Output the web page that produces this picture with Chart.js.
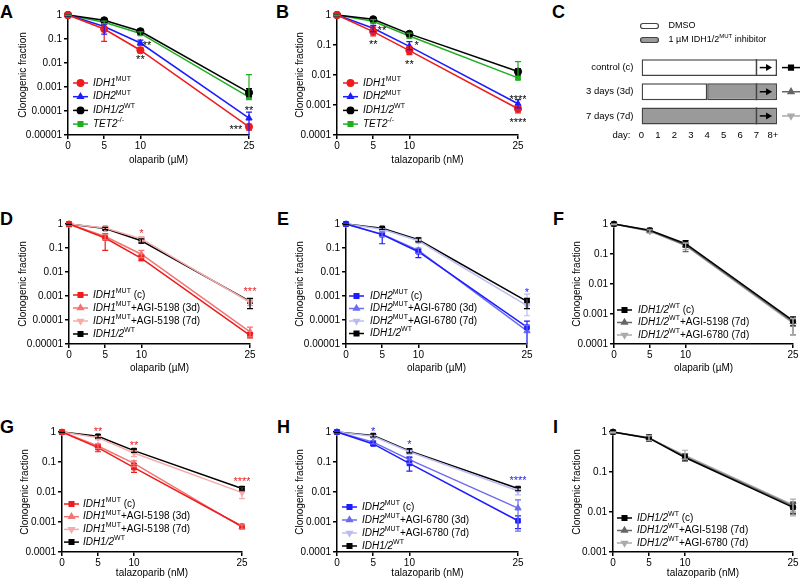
<!DOCTYPE html>
<html><head><meta charset="utf-8">
<script src="https://cdn.jsdelivr.net/npm/chart.js@4.4.0/dist/chart.umd.min.js"></script>
<style>
body{margin:0;background:#fff;width:800px;height:581px;position:relative;overflow:hidden;font-family:"Liberation Sans",Arial,sans-serif}
.lt{position:absolute;font:bold 18px/1 "Liberation Sans",Arial,sans-serif;color:#000}
</style></head><body>
<div class="lt" style="left:0px;top:3px">A</div>
<div class="lt" style="left:276px;top:3px">B</div>
<div class="lt" style="left:552px;top:3px">C</div>
<div class="lt" style="left:0px;top:210px">D</div>
<div class="lt" style="left:277px;top:210px">E</div>
<div class="lt" style="left:553px;top:210px">F</div>
<div class="lt" style="left:0px;top:418px">G</div>
<div class="lt" style="left:277px;top:418px">H</div>
<div class="lt" style="left:553px;top:418px">I</div>
<script>
const FONT = '"Liberation Sans", Arial, Helvetica, sans-serif';
Chart.defaults.font.family = FONT;
Chart.defaults.font.size = 10;
Chart.defaults.color = '#000';

// ================= DATA =================
const doses = [0, 5, 10, 25];
const logTickLabels = ['1', '0.1', '0.01', '0.001', '0.0001', '0.00001'];

// Panel A (olaparib)
const A_IDH1mut    = [1, 0.26, 0.034, 0.000022];
const A_IDH1mut_hi = [1, 0.40, 0.045, 0.000028];
const A_IDH1mut_lo = [0.78, 0.08, 0.027, 0.000016];
const A_IDH2mut    = [1, 0.33, 0.068, 0.00005];
const A_IDH2mut_hi = [1, 0.42, 0.09, 0.00009];
const A_IDH2mut_lo = [0.9, 0.16, 0.055, 0.00001];
const A_WT    = [1, 0.60, 0.21, 0.00058];
const A_WT_hi = [1, 0.70, 0.26, 0.00085];
const A_WT_lo = [0.92, 0.50, 0.16, 0.00040];
const A_TET2    = [1, 0.50, 0.17, 0.00038];
const A_TET2_hi = [1, 0.56, 0.20, 0.0033];
const A_TET2_lo = [0.95, 0.44, 0.14, 0.00030];
const A_stars = [[10.9, 0.068, '**'], [10, 0.018, '**'], [25, 0.00013, '**'], [23.2, 0.000022, '***']];

// Panel B (talazoparib)
const B_IDH1mut    = [1, 0.28, 0.065, 0.00075];
const B_IDH1mut_hi = [1, 0.40, 0.09, 0.0009];
const B_IDH1mut_lo = [0.9, 0.20, 0.048, 0.00055];
const B_IDH2mut    = [1, 0.36, 0.09, 0.0011];
const B_IDH2mut_hi = [1, 0.45, 0.13, 0.0015];
const B_IDH2mut_lo = [0.95, 0.28, 0.07, 0.0008];
const B_WT    = [1, 0.72, 0.235, 0.013];
const B_WT_hi = [1, 0.82, 0.27, 0.016];
const B_WT_lo = [0.95, 0.62, 0.20, 0.010];
const B_TET2    = [1, 0.62, 0.20, 0.008];
const B_TET2_hi = [1, 0.70, 0.25, 0.028];
const B_TET2_lo = [0.95, 0.55, 0.17, 0.007];
const B_stars = [[6.2, 0.36, '**'], [5, 0.126, '**'], [11, 0.12, '*'], [10, 0.027, '**'], [25, 0.0019, '****'], [25, 0.00032, '****']];

// Panel C (treatment schedule)
const C_days = [0, 1, 2, 3, 4, 5, 6, 7, 8];
const C_dayLabels = ['0', '1', '2', '3', '4', '5', '6', '7', '8+'];
const C_rows = ['control (c)', '3 days (3d)', '7 days (7d)'];
const C_dmso  = [[0, 8.25], [0, 4], null];
const C_inhib = [null, [4, 8.25], [0, 8.25]];
const C_plating = 7;

// Panel D (olaparib, IDH1 mut + AGI-5198)
const D_c    = [1, 0.26, 0.037, 0.000023];
const D_c_hi = [1, 0.40, 0.05, 0.00003];
const D_c_lo = [0.78, 0.08, 0.03, 0.000018];
const D_3d    = [1, 0.30, 0.055, 0.000032];
const D_3d_hi = [1, 0.38, 0.08, 0.00005];
const D_3d_lo = [0.9, 0.22, 0.04, 0.00002];
const D_7d    = [1, 0.68, 0.24, 0.00055];
const D_7d_hi = [1, 0.75, 0.30, 0.0007];
const D_7d_lo = [0.95, 0.60, 0.18, 0.0004];
const D_WT    = [1, 0.65, 0.20, 0.0006];
const D_WT_hi = [1, 0.72, 0.24, 0.0008];
const D_WT_lo = [0.95, 0.58, 0.16, 0.0003];
const D_stars = [[10, 0.53, '*'], [25, 0.002, '***']];

// Panel E (olaparib, IDH2 mut + AGI-6780)
const E_c    = [1, 0.36, 0.07, 0.00005];
const E_c_hi = [1, 0.47, 0.09, 0.00009];
const E_c_lo = [0.9, 0.15, 0.04, 0.00001];
const E_3d    = [1, 0.38, 0.08, 0.000035];
const E_3d_hi = [1, 0.45, 0.10, 0.00006];
const E_3d_lo = [0.92, 0.30, 0.06, 0.00001];
const E_7d    = [1, 0.60, 0.20, 0.0004];
const E_7d_hi = [1, 0.68, 0.25, 0.0012];
const E_7d_lo = [0.95, 0.52, 0.16, 0.00015];
const E_WT    = [1, 0.66, 0.22, 0.0006];
const E_WT_hi = [1, 0.72, 0.26, 0.0008];
const E_WT_lo = [0.95, 0.60, 0.18, 0.0003];
const E_stars = [[25, 0.0017, '*']];

// Panel F (olaparib, IDH1/2 WT)
const F_c    = [1, 0.62, 0.22, 0.0006];
const F_c_hi = [1, 0.70, 0.28, 0.0008];
const F_c_lo = [0.95, 0.55, 0.17, 0.0004];
const F_5198    = [1, 0.60, 0.20, 0.00055];
const F_5198_hi = [1, 0.66, 0.24, 0.0007];
const F_5198_lo = [0.95, 0.54, 0.12, 0.0002];
const F_6780    = [1, 0.57, 0.19, 0.0005];
const F_6780_hi = [1, 0.63, 0.23, 0.0007];
const F_6780_lo = [0.95, 0.50, 0.14, 0.0002];

// Panel G (talazoparib, IDH1 mut + AGI-5198)
const G_c    = [1, 0.30, 0.065, 0.00072];
const G_c_hi = [1, 0.38, 0.09, 0.00082];
const G_c_lo = [0.95, 0.22, 0.045, 0.0006];
const G_3d    = [1, 0.34, 0.09, 0.00068];
const G_3d_hi = [1, 0.40, 0.11, 0.0008];
const G_3d_lo = [0.95, 0.28, 0.07, 0.00058];
const G_7d    = [1, 0.65, 0.20, 0.0095];
const G_7d_hi = [1, 0.72, 0.25, 0.015];
const G_7d_lo = [0.95, 0.56, 0.15, 0.006];
const G_WT    = [1, 0.72, 0.24, 0.013];
const G_WT_hi = [1, 0.80, 0.27, 0.015];
const G_WT_lo = [0.95, 0.64, 0.21, 0.011];
const G_stars = [[5, 1.3, '**'], [10, 0.42, '**'], [25, 0.027, '****']];

// Panel H (talazoparib, IDH2 mut + AGI-6780)
const H_c    = [1, 0.40, 0.09, 0.0011];
const H_c_hi = [1, 0.45, 0.14, 0.0016];
const H_c_lo = [0.95, 0.36, 0.05, 0.0006];
const H_3d    = [1, 0.46, 0.12, 0.0029];
const H_3d_hi = [1, 0.52, 0.15, 0.0055];
const H_3d_lo = [0.95, 0.40, 0.09, 0.0005];
const H_7d    = [1, 0.72, 0.22, 0.011];
const H_7d_hi = [1, 0.80, 0.26, 0.013];
const H_7d_lo = [0.95, 0.64, 0.18, 0.008];
const H_WT    = [1, 0.76, 0.235, 0.013];
const H_WT_hi = [1, 0.84, 0.27, 0.014];
const H_WT_lo = [0.95, 0.68, 0.20, 0.011];
const H_stars = [[5, 1.3, '*'], [10, 0.48, '*'], [25, 0.029, '****']];

// Panel I (talazoparib, IDH1/2 WT)
const I_c    = [1, 0.70, 0.23, 0.013];
const I_c_hi = [1, 0.85, 0.28, 0.017];
const I_c_lo = [0.95, 0.58, 0.19, 0.009];
const I_5198    = [1, 0.72, 0.24, 0.014];
const I_5198_hi = [1, 0.82, 0.29, 0.018];
const I_5198_lo = [0.95, 0.62, 0.20, 0.010];
const I_6780    = [1, 0.70, 0.26, 0.015];
const I_6780_hi = [1, 0.80, 0.35, 0.021];
const I_6780_lo = [0.95, 0.60, 0.21, 0.008];

// Legend labels (rich text segments: '' normal, 'i' italic, 's' superscript)
const L_IDH1MUT = [['IDH1', 'i'], ['MUT', 's']];
const L_IDH2MUT = [['IDH2', 'i'], ['MUT', 's']];
const L_WT = [['IDH1/2', 'i'], ['WT', 's']];
const L_TET2 = [['TET2', 'i'], ['-/-', 's']];
const L_IDH1c = [['IDH1', 'i'], ['MUT', 's'], [' (c)', '']];
const L_IDH1_3d = [['IDH1', 'i'], ['MUT', 's'], ['+AGI-5198 (3d)', '']];
const L_IDH1_7d = [['IDH1', 'i'], ['MUT', 's'], ['+AGI-5198 (7d)', '']];
const L_IDH2c = [['IDH2', 'i'], ['MUT', 's'], [' (c)', '']];
const L_IDH2_3d = [['IDH2', 'i'], ['MUT', 's'], ['+AGI-6780 (3d)', '']];
const L_IDH2_7d = [['IDH2', 'i'], ['MUT', 's'], ['+AGI-6780 (7d)', '']];
const L_WTc = [['IDH1/2', 'i'], ['WT', 's'], [' (c)', '']];
const L_WT_5198 = [['IDH1/2', 'i'], ['WT', 's'], ['+AGI-5198 (7d)', '']];
const L_WT_6780 = [['IDH1/2', 'i'], ['WT', 's'], ['+AGI-6780 (7d)', '']];
const L_C_dmso = [['DMSO', '']];
const L_C_inhib = [['1 µM IDH1/2', ''], ['MUT', 's'], [' inhibitor', '']];

// ================= STYLE =================
const COL = {
  red: '#ee1c1c', red3: '#f27474', red7: '#f6abab',
  blue: '#1c1cff', blue3: '#6c6cf0', blue7: '#bcbcf2',
  black: '#000000', green: '#1fae1f', grey1: '#666666', grey2: '#ababab'
};

function drawRich(ctx, segs, x, y, size) {
  let cx = x;
  for (const [t, st] of segs) {
    if (st === 's') {
      ctx.font = `${Math.round(size * 0.7)}px ${FONT}`;
      ctx.fillText(t, cx, y - size * 0.4);
    } else {
      ctx.font = `${st === 'i' ? 'italic ' : ''}${size}px ${FONT}`;
      ctx.fillText(t, cx, y);
    }
    cx += ctx.measureText(t).width;
  }
}

function curvePanel(cfg) {
  const {L, T, R, B} = cfg.plot;
  const cx = Math.max(0, L - 70), cy = T - 15;
  const cw = R + 8 - cx, ch = B + 32 - cy;
  const cv = document.createElement('canvas');
  cv.width = cw; cv.height = ch;
  cv.style.cssText = `position:absolute;left:${cx}px;top:${cy}px;width:${cw}px;height:${ch}px`;
  document.body.appendChild(cv);
  const Wy = L - cx, Hx = ch - (B - cy);
  const lh = 12;
  const ytp = cfg.yTitleX - cx - lh / 2;
  const xpb = cy + ch - lh / 2 - cfg.xTitleY;
  const nDec = Math.round(-Math.log10(cfg.yMin));

  const deco = {
    id: 'deco',
    afterDatasetsDraw(chart) {
      const ctx = chart.ctx, xs = chart.scales.x, ys = chart.scales.y, ca = chart.chartArea;
      ctx.save();
      // error bars
      cfg.series.forEach(s => {
        if (!s.hi) return;
        ctx.strokeStyle = s.c; ctx.lineWidth = 1.2;
        s.d.forEach((v, i) => {
          if (s.hi[i] == null) return;
          const px = xs.getPixelForValue(doses[i]);
          const yh = ys.getPixelForValue(s.hi[i]);
          const yl = Math.min(ys.getPixelForValue(s.lo[i]), ca.bottom);
          ctx.beginPath();
          ctx.moveTo(px, yh); ctx.lineTo(px, yl);
          ctx.moveTo(px - 3, yh); ctx.lineTo(px + 3, yh);
          if (yl < ca.bottom - 0.5) { ctx.moveTo(px - 3, yl); ctx.lineTo(px + 3, yl); }
          ctx.stroke();
        });
      });
      // significance stars
      ctx.fillStyle = cfg.starColor; ctx.font = `11px ${FONT}`;
      ctx.textAlign = 'center'; ctx.textBaseline = 'alphabetic';
      (cfg.stars || []).forEach(([sx, sy, t]) => {
        ctx.fillText(t, xs.getPixelForValue(sx), ys.getPixelForValue(sy) + 6);
      });
      // legend
      cfg.series.forEach((s, k) => {
        const y0 = ca.top + cfg.leg.dy + k * cfg.leg.gap;
        const x0 = ca.left + cfg.leg.dx;
        ctx.strokeStyle = s.c; ctx.fillStyle = s.c; ctx.lineWidth = 1.5;
        ctx.beginPath(); ctx.moveTo(x0, y0); ctx.lineTo(x0 + 15, y0); ctx.stroke();
        Chart.helpers.drawPoint(ctx, {pointStyle: s.st, rotation: s.rot || 0, radius: 3.2, borderWidth: 1}, x0 + 7.5, y0);
        ctx.fillStyle = '#000'; ctx.textAlign = 'left'; ctx.textBaseline = 'middle';
        drawRich(ctx, s.lab, x0 + cfg.leg.tx, y0, 10);
      });
      ctx.restore();
    }
  };

  new Chart(cv, {
    type: 'line',
    data: {
      datasets: cfg.series.map(s => ({
        data: doses.map((d, i) => ({x: d, y: s.d[i]})),
        borderColor: s.c, backgroundColor: s.c,
        pointBackgroundColor: s.c, pointBorderColor: s.c,
        pointStyle: s.st, pointRotation: s.rot || 0,
        pointRadius: s.st === 'rect' ? 3.3 : 3.6, pointBorderWidth: 1,
        borderWidth: 1.5, tension: 0, clip: false, fill: false
      }))
    },
    options: {
      responsive: false, animation: false, devicePixelRatio: 1,
      layout: {padding: {left: 0, top: T - cy, right: cx + cw - R, bottom: 0}},
      plugins: {legend: {display: false}, tooltip: {enabled: false}},
      scales: {
        x: {
          type: 'linear', min: 0, max: 25,
          afterBuildTicks: s => { s.ticks = doses.map(v => ({value: v})); },
          afterFit: s => { s.height = Hx; },
          grid: {display: true, drawOnChartArea: false, drawTicks: true, tickLength: 4, color: '#000', lineWidth: 1.5},
          border: {display: true, color: '#000', width: 1.5},
          ticks: {color: '#000', font: {size: 10}, padding: 1, maxRotation: 0, autoSkip: false},
          title: {display: true, text: cfg.xTitle, color: '#000', font: {size: 10}, padding: {top: 0, bottom: xpb}}
        },
        y: {
          type: 'logarithmic', min: cfg.yMin, max: 1,
          afterBuildTicks: s => {
            const t = [];
            for (let k = 0; k <= nDec; k++) t.push({value: Math.pow(10, -k)});
            s.ticks = t;
          },
          afterFit: s => { s.width = Wy; },
          grid: {display: true, drawOnChartArea: false, drawTicks: true, tickLength: 4, color: '#000', lineWidth: 1.5},
          border: {display: true, color: '#000', width: 1.5},
          ticks: {color: '#000', font: {size: 10}, padding: 2, autoSkip: false,
            callback: v => logTickLabels[Math.round(-Math.log10(v))]},
          title: {display: true, text: 'Clonogenic fraction', color: '#000', font: {size: 10}, padding: {top: ytp, bottom: 0}}
        }
      }
    },
    plugins: [deco]
  });
}

const ola = 'olaparib (µM)', tala = 'talazoparib (nM)';

curvePanel({plot: {L: 68, T: 15, R: 249, B: 135}, yMin: 1e-5, yTitleX: 23, xTitleY: 160, xTitle: ola,
  leg: {dx: 5, dy: 68, gap: 13.7, tx: 20}, starColor: '#000', stars: A_stars,
  series: [
    {lab: L_IDH1MUT, d: A_IDH1mut, hi: A_IDH1mut_hi, lo: A_IDH1mut_lo, c: COL.red, st: 'circle'},
    {lab: L_IDH2MUT, d: A_IDH2mut, hi: A_IDH2mut_hi, lo: A_IDH2mut_lo, c: COL.blue, st: 'triangle'},
    {lab: L_WT, d: A_WT, hi: A_WT_hi, lo: A_WT_lo, c: COL.black, st: 'circle'},
    {lab: L_TET2, d: A_TET2, hi: A_TET2_hi, lo: A_TET2_lo, c: COL.green, st: 'rect'}
  ]});

curvePanel({plot: {L: 337, T: 15, R: 518, B: 135}, yMin: 1e-4, yTitleX: 300, xTitleY: 160, xTitle: tala,
  leg: {dx: 6, dy: 68, gap: 13.7, tx: 20}, starColor: '#000', stars: B_stars,
  series: [
    {lab: L_IDH1MUT, d: B_IDH1mut, hi: B_IDH1mut_hi, lo: B_IDH1mut_lo, c: COL.red, st: 'circle'},
    {lab: L_IDH2MUT, d: B_IDH2mut, hi: B_IDH2mut_hi, lo: B_IDH2mut_lo, c: COL.blue, st: 'triangle'},
    {lab: L_WT, d: B_WT, hi: B_WT_hi, lo: B_WT_lo, c: COL.black, st: 'circle'},
    {lab: L_TET2, d: B_TET2, hi: B_TET2_hi, lo: B_TET2_lo, c: COL.green, st: 'rect'}
  ]});

curvePanel({plot: {L: 69, T: 224, R: 250, B: 344}, yMin: 1e-5, yTitleX: 23, xTitleY: 368, xTitle: ola,
  leg: {dx: 4, dy: 71, gap: 13, tx: 20}, starColor: COL.red, stars: D_stars,
  series: [
    {lab: L_IDH1c, d: D_c, hi: D_c_hi, lo: D_c_lo, c: COL.red, st: 'rect'},
    {lab: L_IDH1_3d, d: D_3d, hi: D_3d_hi, lo: D_3d_lo, c: COL.red3, st: 'triangle'},
    {lab: L_IDH1_7d, d: D_7d, hi: D_7d_hi, lo: D_7d_lo, c: COL.red7, st: 'triangle', rot: 180},
    {lab: L_WT, d: D_WT, hi: D_WT_hi, lo: D_WT_lo, c: COL.black, st: 'rect'}
  ]});

curvePanel({plot: {L: 346, T: 224, R: 527, B: 344}, yMin: 1e-5, yTitleX: 300, xTitleY: 368, xTitle: ola,
  leg: {dx: 3, dy: 72, gap: 12.5, tx: 21}, starColor: COL.blue, stars: E_stars,
  series: [
    {lab: L_IDH2c, d: E_c, hi: E_c_hi, lo: E_c_lo, c: COL.blue, st: 'rect'},
    {lab: L_IDH2_3d, d: E_3d, hi: E_3d_hi, lo: E_3d_lo, c: COL.blue3, st: 'triangle'},
    {lab: L_IDH2_7d, d: E_7d, hi: E_7d_hi, lo: E_7d_lo, c: COL.blue7, st: 'triangle', rot: 180},
    {lab: L_WT, d: E_WT, hi: E_WT_hi, lo: E_WT_lo, c: COL.black, st: 'rect'}
  ]});

curvePanel({plot: {L: 614, T: 224, R: 793, B: 344}, yMin: 1e-4, yTitleX: 577, xTitleY: 368, xTitle: ola,
  leg: {dx: 3, dy: 86, gap: 12.5, tx: 21}, starColor: '#000', stars: [],
  series: [
    {lab: L_WTc, d: F_c, hi: F_c_hi, lo: F_c_lo, c: COL.black, st: 'rect'},
    {lab: L_WT_5198, d: F_5198, hi: F_5198_hi, lo: F_5198_lo, c: COL.grey1, st: 'triangle'},
    {lab: L_WT_6780, d: F_6780, hi: F_6780_hi, lo: F_6780_lo, c: COL.grey2, st: 'triangle', rot: 180}
  ]});

curvePanel({plot: {L: 62, T: 432, R: 242, B: 552}, yMin: 1e-4, yTitleX: 25, xTitleY: 573, xTitle: tala,
  leg: {dx: 2, dy: 72, gap: 12.7, tx: 19}, starColor: COL.red, stars: G_stars,
  series: [
    {lab: L_IDH1c, d: G_c, hi: G_c_hi, lo: G_c_lo, c: COL.red, st: 'rect'},
    {lab: L_IDH1_3d, d: G_3d, hi: G_3d_hi, lo: G_3d_lo, c: COL.red3, st: 'triangle'},
    {lab: L_IDH1_7d, d: G_7d, hi: G_7d_hi, lo: G_7d_lo, c: COL.red7, st: 'triangle', rot: 180},
    {lab: L_WT, d: G_WT, hi: G_WT_hi, lo: G_WT_lo, c: COL.black, st: 'rect'}
  ]});

curvePanel({plot: {L: 337, T: 432, R: 518, B: 552}, yMin: 1e-4, yTitleX: 300, xTitleY: 573, xTitle: tala,
  leg: {dx: 5, dy: 75, gap: 13, tx: 20}, starColor: COL.blue, stars: H_stars,
  series: [
    {lab: L_IDH2c, d: H_c, hi: H_c_hi, lo: H_c_lo, c: COL.blue, st: 'rect'},
    {lab: L_IDH2_3d, d: H_3d, hi: H_3d_hi, lo: H_3d_lo, c: COL.blue3, st: 'triangle'},
    {lab: L_IDH2_7d, d: H_7d, hi: H_7d_hi, lo: H_7d_lo, c: COL.blue7, st: 'triangle', rot: 180},
    {lab: L_WT, d: H_WT, hi: H_WT_hi, lo: H_WT_lo, c: COL.black, st: 'rect'}
  ]});

curvePanel({plot: {L: 613, T: 432, R: 793, B: 552}, yMin: 1e-3, yTitleX: 577, xTitleY: 573, xTitle: tala,
  leg: {dx: 4, dy: 86, gap: 12.5, tx: 20}, starColor: '#000', stars: [],
  series: [
    {lab: L_WTc, d: I_c, hi: I_c_hi, lo: I_c_lo, c: COL.black, st: 'rect'},
    {lab: L_WT_5198, d: I_5198, hi: I_5198_hi, lo: I_5198_lo, c: COL.grey1, st: 'triangle'},
    {lab: L_WT_6780, d: I_6780, hi: I_6780_hi, lo: I_6780_lo, c: COL.grey2, st: 'triangle', rot: 180}
  ]});

// ================= Panel C =================
(function () {
  const cx = 530, cy = 0, cw = 270, ch = 150;
  const cv = document.createElement('canvas');
  cv.width = cw; cv.height = ch;
  cv.style.cssText = `position:absolute;left:${cx}px;top:${cy}px;width:${cw}px;height:${ch}px`;
  document.body.appendChild(cv);
  const markers = [
    {c: COL.black, st: 'rect', rot: 0},
    {c: COL.grey1, st: 'triangle', rot: 0},
    {c: COL.grey2, st: 'triangle', rot: 180}
  ];
  const decoC = {
    id: 'decoC',
    afterDatasetsDraw(chart) {
      const ctx = chart.ctx, xs = chart.scales.x, ca = chart.chartArea;
      const m0 = chart.getDatasetMeta(0), m1 = chart.getDatasetMeta(1);
      ctx.save();
      C_rows.forEach((r, i) => {
        const el = (C_dmso[i] ? m0.data[i] : m1.data[i]);
        const yc = el.y, h = el.height;
        const xp = xs.getPixelForValue(C_plating);
        ctx.strokeStyle = '#444'; ctx.lineWidth = 1.5;
        ctx.beginPath(); ctx.moveTo(xp, yc - h / 2); ctx.lineTo(xp, yc + h / 2); ctx.stroke();
        // arrow
        const a0 = xs.getPixelForValue(C_plating + 0.2), a1 = xs.getPixelForValue(C_plating + 0.95);
        ctx.strokeStyle = '#000'; ctx.fillStyle = '#000'; ctx.lineWidth = 1.5;
        ctx.beginPath(); ctx.moveTo(a0, yc); ctx.lineTo(a1 - 5, yc); ctx.stroke();
        ctx.beginPath(); ctx.moveTo(a1, yc); ctx.lineTo(a1 - 6, yc - 3.5); ctx.lineTo(a1 - 6, yc + 3.5); ctx.closePath(); ctx.fill();
        // right-side symbol
        const mk = markers[i];
        const mx0 = ca.right + 5, mx1 = ca.right + 23;
        ctx.strokeStyle = mk.c; ctx.fillStyle = mk.c;
        ctx.beginPath(); ctx.moveTo(mx0, yc); ctx.lineTo(mx1, yc); ctx.stroke();
        Chart.helpers.drawPoint(ctx, {pointStyle: mk.st, rotation: mk.rot, radius: 3.3, borderWidth: 1}, (mx0 + mx1) / 2, yc);
      });
      // top legend
      const lx = ca.left - 1;
      [[26, '#fff', L_C_dmso], [40, '#9a9a9a', L_C_inhib]].forEach(([ly, fillc, lab]) => {
        ctx.fillStyle = fillc; ctx.strokeStyle = '#444'; ctx.lineWidth = 1.2;
        ctx.beginPath();
        ctx.moveTo(lx + 2.5, ly - 2.5); ctx.lineTo(lx + 15.5, ly - 2.5);
        ctx.arc(lx + 15.5, ly, 2.5, -Math.PI / 2, Math.PI / 2);
        ctx.lineTo(lx + 2.5, ly + 2.5);
        ctx.arc(lx + 2.5, ly, 2.5, Math.PI / 2, 3 * Math.PI / 2);
        ctx.closePath(); ctx.fill(); ctx.stroke();
        ctx.fillStyle = '#000'; ctx.textAlign = 'left'; ctx.textBaseline = 'middle';
        drawRich(ctx, lab, lx + 28, ly, 9);
      });
      // "day:" label
      ctx.fillStyle = '#000'; ctx.font = `9.5px ${FONT}`; ctx.textAlign = 'right'; ctx.textBaseline = 'middle';
      ctx.fillText('day:', ca.left - 11, ca.bottom + 7.5);
      ctx.restore();
    }
  };
  new Chart(cv, {
    type: 'bar',
    data: {
      labels: C_rows,
      datasets: [
        {data: C_dmso, backgroundColor: '#ffffff', borderColor: '#444', borderWidth: 1.5, borderSkipped: false,
          grouped: false, barPercentage: 0.7, categoryPercentage: 1},
        {data: C_inhib, backgroundColor: '#9a9a9a', borderColor: '#444', borderWidth: 1.5, borderSkipped: false,
          grouped: false, barPercentage: 0.7, categoryPercentage: 1}
      ]
    },
    options: {
      indexAxis: 'y', responsive: false, animation: false, devicePixelRatio: 1,
      layout: {padding: {left: 0, top: 55.5, right: 23, bottom: 0}},
      plugins: {legend: {display: false}, tooltip: {enabled: false}},
      scales: {
        x: {
          type: 'linear', min: 0, max: 8.25,
          afterBuildTicks: s => { s.ticks = C_days.map(v => ({value: v})); },
          afterFit: s => { s.height = 22; },
          ticks: {callback: (v, i) => C_dayLabels[i], font: {size: 9.5}, padding: 2, autoSkip: false, maxRotation: 0, color: '#000'},
          grid: {display: false, drawTicks: false, tickLength: 0},
          border: {display: false}
        },
        y: {
          type: 'category',
          afterFit: s => { s.width = 111.5; },
          ticks: {font: {size: 9.5}, padding: 8, color: '#000'},
          grid: {display: false, drawTicks: false, tickLength: 0},
          border: {display: false}
        }
      }
    },
    plugins: [decoC]
  });
})();
</script>
</body></html>
